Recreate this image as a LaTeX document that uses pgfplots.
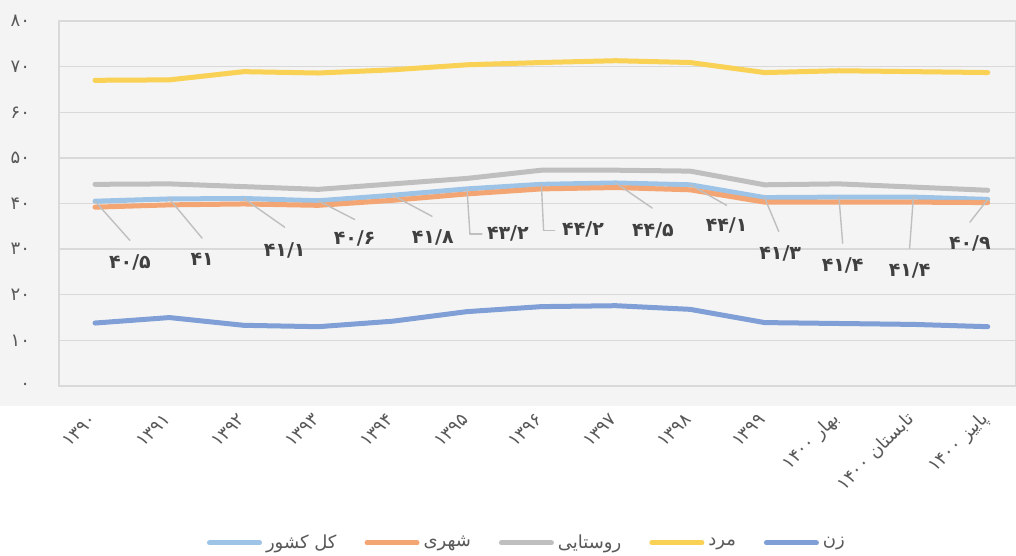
\documentclass[border=0pt]{standalone}
\usepackage{pgfplots}
\pgfplotsset{compat=1.18}
\usepackage{pgfplotstable}
\usepackage{fontspec}
\TeXXeTstate=1
\newfontfamily\fa[Script=Arabic]{DejaVu Sans}
\definecolor{bgc}{HTML}{F4F4F4}
\definecolor{cTotal}{HTML}{9DC3E6}
\definecolor{cUrban}{HTML}{F3A673}
\definecolor{cRural}{HTML}{BFBFBF}
\definecolor{cMen}{HTML}{F9D154}
\definecolor{cWomen}{HTML}{809FD6}
\definecolor{txt}{HTML}{595959}
\definecolor{lbl}{HTML}{404040}
\definecolor{gridc}{HTML}{D9D9D9}

% series values, one row per period
\pgfplotstableread{
x total urban rural men women
0  40.5 39.2 44.2 67.0 13.8
1  41.0 39.7 44.3 67.1 15.0
2  41.1 39.9 43.7 68.9 13.3
3  40.6 39.6 43.1 68.6 13.0
4  41.8 40.7 44.3 69.3 14.2
5  43.2 42.1 45.5 70.4 16.3
6  44.2 43.2 47.3 70.9 17.4
7  44.5 43.5 47.3 71.3 17.6
8  44.1 43.0 47.1 70.9 16.8
9  41.3 40.3 44.1 68.7 13.9
10 41.4 40.3 44.3 69.1 13.7
11 41.4 40.3 43.6 68.9 13.5
12 40.9 40.2 42.9 68.7 13.0
}\datatable

% leader lines of the data labels (start, offset)
\pgfplotstableread{
x y u v
0    40.5  0.47 -8.6
1    41.0  0.44 -8.6
2    41.1  0.55 -6.3
3    40.6  0.49 -4.1
4    41.8  0.53 -4.6
5    43.2  0.04 -9.9
5.04 33.3  0.16  0
6    44.2  0.03 -10.1
6.03 34.1  0.15  0
7    44.5  0.49 -5.5
8    44.1  0.49 -4.5
9    41.3  0.19 -7.4
10   41.4  0.05 -10.1
11   41.4 -0.05 -11.2
12   40.9 -0.24 -5.0
}\leadtable

% data label positions (label = one number each)
\pgfplotstableread{
x y label
0.47  27.1 ۴۰/۵
1.44  27.8 ۴۱
2.55  29.8 ۴۱/۱
3.49  32.4 ۴۰/۶
4.54  32.6 ۴۱/۸
5.55  33.5 ۴۳/۲
6.56  34.4 ۴۴/۲
7.50  34.1 ۴۴/۵
8.49  35.2 ۴۴/۱
9.21  29.1 ۴۱/۳
10.05 26.5 ۴۱/۴
10.95 25.4 ۴۱/۴
11.76 31.3 ۴۰/۹
}\lbltable

\begin{document}
\begin{tikzpicture}
\useasboundingbox (-29.5pt,-85pt) rectangle (478.5pt,193pt);
\fill[bgc] (-29.5pt,-10pt) rectangle (478.5pt,193pt);
\fill[white] (-29.5pt,-85pt) rectangle (478.5pt,-10pt);
\begin{axis}[
  at={(0,0)}, anchor=south west,
  scale only axis, width=478.5pt, height=182.5pt,
  xmin=-0.484, xmax=12.38, ymin=0, ymax=80,
  xtick={0,...,12},
  xticklabels={۱۳۹۰,۱۳۹۱,۱۳۹۲,۱۳۹۳,۱۳۹۴,۱۳۹۵,۱۳۹۶,۱۳۹۷,۱۳۹۸,۱۳۹۹,
    {\beginR بهار ۱۴۰۰\endR},{\beginR تابستان ۱۴۰۰\endR},{\beginR پاییز ۱۴۰۰\endR}},
  ytick={0,10,...,80},
  yticklabels={۰,۱۰,۲۰,۳۰,۴۰,۵۰,۶۰,۷۰,۸۰},
  major tick length=0pt,
  ymajorgrids, grid style={draw=gridc, line width=0.7pt},
  axis line style={draw=gridc, line width=0.8pt},
  tick label style={font=\fa\fontsize{9}{10}\selectfont, text=txt},
  yticklabel style={xshift=-11pt},
  xticklabel style={rotate=45, anchor=east, xshift=-8pt, yshift=-10pt},
  legend style={at={(0.49,-0.43)}, anchor=center, draw=none, fill=none,
    font=\fa\fontsize{9}{10}\selectfont, text=txt},
  legend columns=5,
  /tikz/every even column/.append style={column sep=12pt},
  legend image code/.code={\draw[line width=2.5pt, line cap=round] (0pt,0pt) -- (25pt,0pt);},
  every axis plot/.append style={line width=2.5pt, line cap=round, line join=round},
]
\addplot[cTotal] table[x=x, y=total] {\datatable};
\addlegendentry{\beginR کل کشور\endR}
\addplot[cUrban] table[x=x, y=urban] {\datatable};
\addlegendentry{\beginR شهری\endR}
\addplot[cRural] table[x=x, y=rural] {\datatable};
\addlegendentry{\beginR روستایی\endR}
\addplot[cMen] table[x=x, y=men] {\datatable};
\addlegendentry{\beginR مرد\endR}
\addplot[cWomen] table[x=x, y=women] {\datatable};
\addlegendentry{\beginR زن\endR}

\addplot[forget plot, draw=cRural, line width=0.7pt, mark=none,
  quiver={u=\thisrow{u}, v=\thisrow{v}}] table[x=x, y=y] {\leadtable};
\addplot[forget plot, draw=none, mark=none, nodes near coords,
  point meta=explicit symbolic,
  nodes near coords style={anchor=center, text=lbl,
    font=\fa\bfseries\fontsize{9.5}{11}\selectfont}]
  table[x=x, y=y, meta=label] {\lbltable};
\end{axis}
\end{tikzpicture}
\end{document}
